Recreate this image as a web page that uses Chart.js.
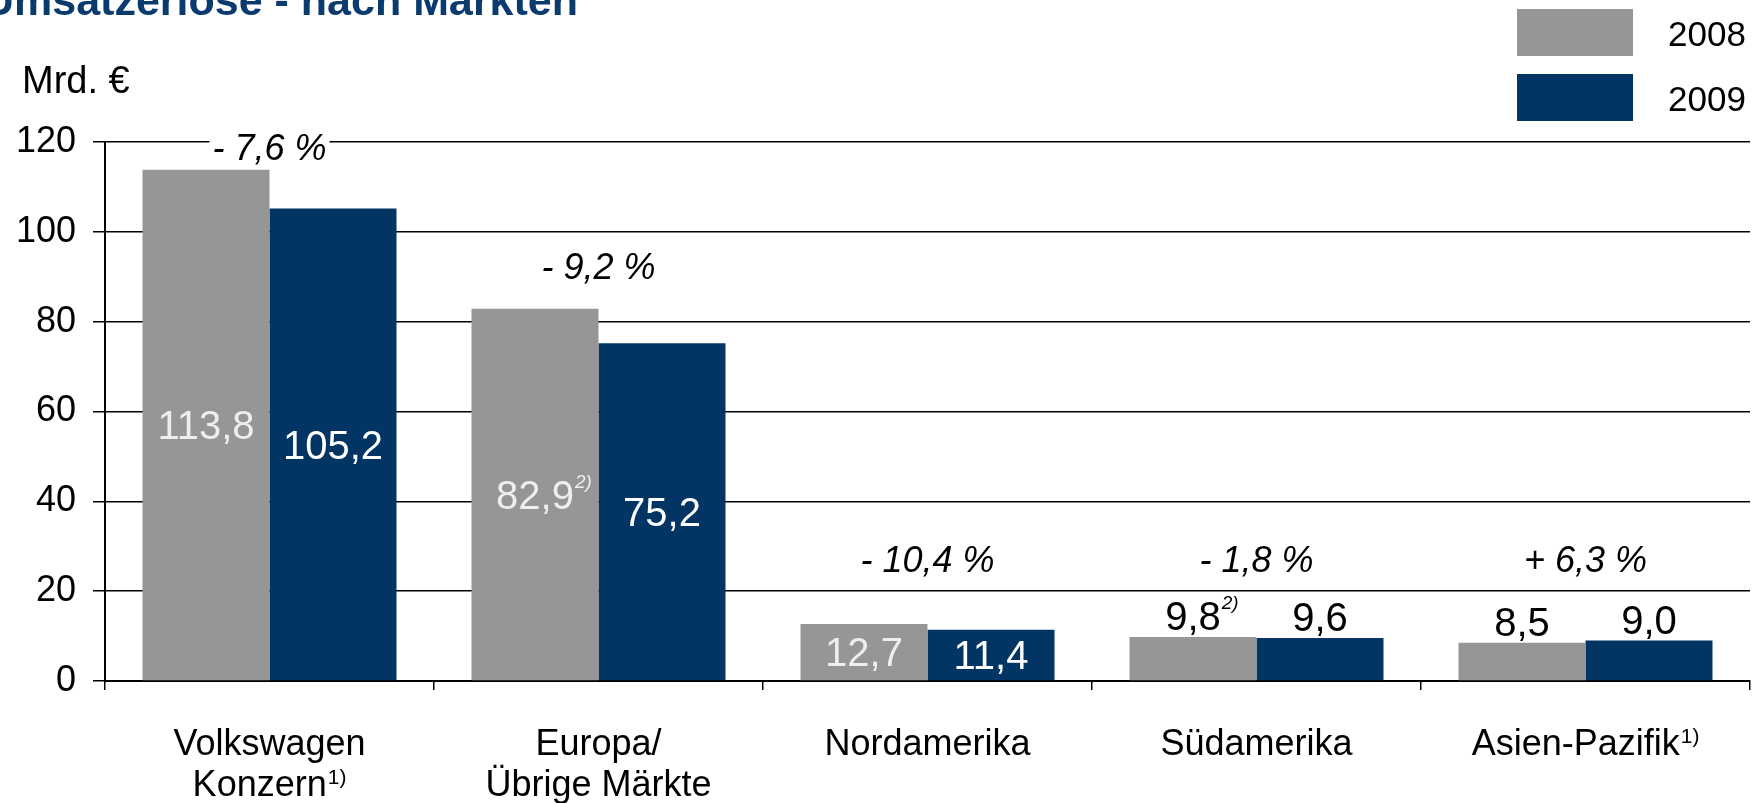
<!DOCTYPE html>
<html><head><meta charset="utf-8">
<script src="https://cdn.jsdelivr.net/npm/chart.js@4/dist/chart.umd.min.js"></script>
<style>html,body{margin:0;padding:0;background:#fff;overflow:hidden}#wrap{width:1760px;height:803px;position:relative}</style>
</head><body><div id="wrap"><canvas id="c" width="1760" height="803"></canvas></div>
<script>
// ---- data ----
const titleText = "Umsatzerlöse - nach Märkten";
const unitText = "Mrd. €";
const categories = [["Volkswagen","Konzern"],["Europa/","Übrige Märkte"],["Nordamerika"],["Südamerika"],["Asien-Pazifik"]];
const categoryNotes = ["1)","","","","1)"];
const seriesNames = ["2008","2009"];
const values2008 = [113.8, 82.9, 12.7, 9.8, 8.5];
const values2009 = [105.2, 75.2, 11.4, 9.6, 9.0];
const notes2008 = ["", "2)", "", "2)", ""];
const changes = ["- 7,6 %","- 9,2 %","- 10,4 %","- 1,8 %","+ 6,3 %"];
const yMin = 0, yMax = 120, yStep = 20;

const FAM = '"Liberation Sans", Arial, Helvetica, sans-serif';
const GRAY = '#969696', BLUE = '#023464', TITLE = '#0b3a6e';

function fmt(v){ return v.toFixed(1).replace('.', ','); }

const annot = {
  id: 'annot',
  afterDatasetsDraw(chart, args, opts){
    const ctx = chart.ctx, xs = chart.scales.x, ys = chart.scales.y;
    ctx.save();
    const sets = [values2008, values2009];
    const insideColors = ['#eeeeee', '#ffffff'];
    const VS = 40;
    sets.forEach((vals, d) => {
      const meta = chart.getDatasetMeta(d);
      vals.forEach((v, i) => {
        const bar = meta.data[i];
        const inside = v >= opts.insideMin;
        const txt = fmt(v);
        ctx.font = VS + 'px ' + FAM;
        ctx.textAlign = 'center'; ctx.textBaseline = 'alphabetic';
        ctx.fillStyle = inside ? insideColors[d] : '#000';
        const base = inside ? (bar.y + bar.base) / 2 + 0.358 * VS : bar.y - opts.aboveGap;
        ctx.fillText(txt, bar.x, base);
        const note = d === 0 ? notes2008[i] : '';
        if (note) {
          const w = ctx.measureText(txt).width;
          ctx.font = 'italic 19px ' + FAM;
          ctx.textAlign = 'left';
          ctx.fillText(note, bar.x + w / 2 + 1, base - 21);
        }
      });
    });
    changes.forEach((t, i) => {
      const x = xs.getPixelForValue(i);
      const y = ys.getPixelForValue(opts.changeAt[i]);
      ctx.font = 'italic 36px ' + FAM;
      const w = ctx.measureText(t).width;
      ctx.fillStyle = '#fff';
      ctx.fillRect(x - w / 2 - 3, y - 15, w + 6, 30);
      ctx.fillStyle = '#000';
      ctx.textAlign = 'center'; ctx.textBaseline = 'middle';
      ctx.fillText(t, x, y);
    });
    ctx.restore();
  },
  afterDraw(chart, args, opts){
    const ctx = chart.ctx, xs = chart.scales.x, ca = chart.chartArea;
    ctx.save();
    categories.forEach((lines, i) => {
      const x = xs.getPixelForValue(i);
      lines.forEach((ln, k) => {
        const y = ca.bottom + 64 + k * 41;
        const isLast = k === lines.length - 1;
        const note = isLast ? categoryNotes[i] : '';
        ctx.font = '36px ' + FAM;
        const w = ctx.measureText(ln).width;
        let nw = 0;
        if (note) { ctx.font = '21px ' + FAM; nw = ctx.measureText(note).width + 1; }
        const left = x - (w + nw) / 2;
        ctx.fillStyle = '#000'; ctx.textBaseline = 'middle'; ctx.textAlign = 'left';
        ctx.font = '36px ' + FAM;
        ctx.fillText(ln, left, y);
        if (note) { ctx.font = '21px ' + FAM; ctx.fillText(note, left + w + 1, y - 8); }
      });
    });
    // title (clipped at top as in the source)
    ctx.font = 'bold 43px ' + FAM;
    ctx.fillStyle = TITLE; ctx.textAlign = 'left'; ctx.textBaseline = 'alphabetic';
    ctx.fillText(titleText, -17, 15);
    // unit
    ctx.font = '38px ' + FAM; ctx.fillStyle = '#000'; ctx.textBaseline = 'middle';
    ctx.fillText(unitText, 22, 83);
    // legend
    chart.data.datasets.forEach((ds, d) => {
      const by = 9 + d * 65;
      ctx.fillStyle = ds.backgroundColor;
      ctx.fillRect(1517, by, 116, 47);
      ctx.fillStyle = '#000'; ctx.font = '35px ' + FAM; ctx.textAlign = 'left'; ctx.textBaseline = 'middle';
      ctx.fillText(ds.label, 1668, by + 27);
    });
    ctx.restore();
  }
};

new Chart(document.getElementById('c'), {
  type: 'bar',
  data: {
    labels: categories.map(c => c.join(' ')),
    datasets: [
      { label: seriesNames[0], data: values2008, backgroundColor: GRAY, borderWidth: 0, barPercentage: 1, categoryPercentage: 0.772 },
      { label: seriesNames[1], data: values2009, backgroundColor: BLUE, borderWidth: 0, barPercentage: 1, categoryPercentage: 0.772 }
    ]
  },
  plugins: [annot],
  options: {
    responsive: false, animation: false, devicePixelRatio: 1,
    layout: { padding: { top: 142, right: 10, left: 0, bottom: 0 } },
    plugins: {
      legend: { display: false }, tooltip: { enabled: false },
      annot: { insideMin: 11, aboveGap: 7, changeAt: [118.3, 91.8, 26.4, 26.4, 26.4] }
    },
    scales: {
      x: {
        offset: true,
        grid: { display: true, offset: true, drawOnChartArea: false, drawTicks: true, tickLength: 9, color: '#000', lineWidth: 1.5 },
        border: { display: true, color: '#000', width: 2 },
        ticks: { display: false },
        afterFit(s){ s.height = 122; }
      },
      y: {
        min: yMin, max: yMax,
        ticks: { stepSize: yStep, font: { size: 36, family: FAM }, color: '#000', padding: 17 },
        grid: { color: '#000', lineWidth: 1.5, tickLength: 12 },
        border: { display: true, color: '#000', width: 2 },
        afterFit(s){ s.width = 105; }
      }
    }
  }
});
</script></body></html>
